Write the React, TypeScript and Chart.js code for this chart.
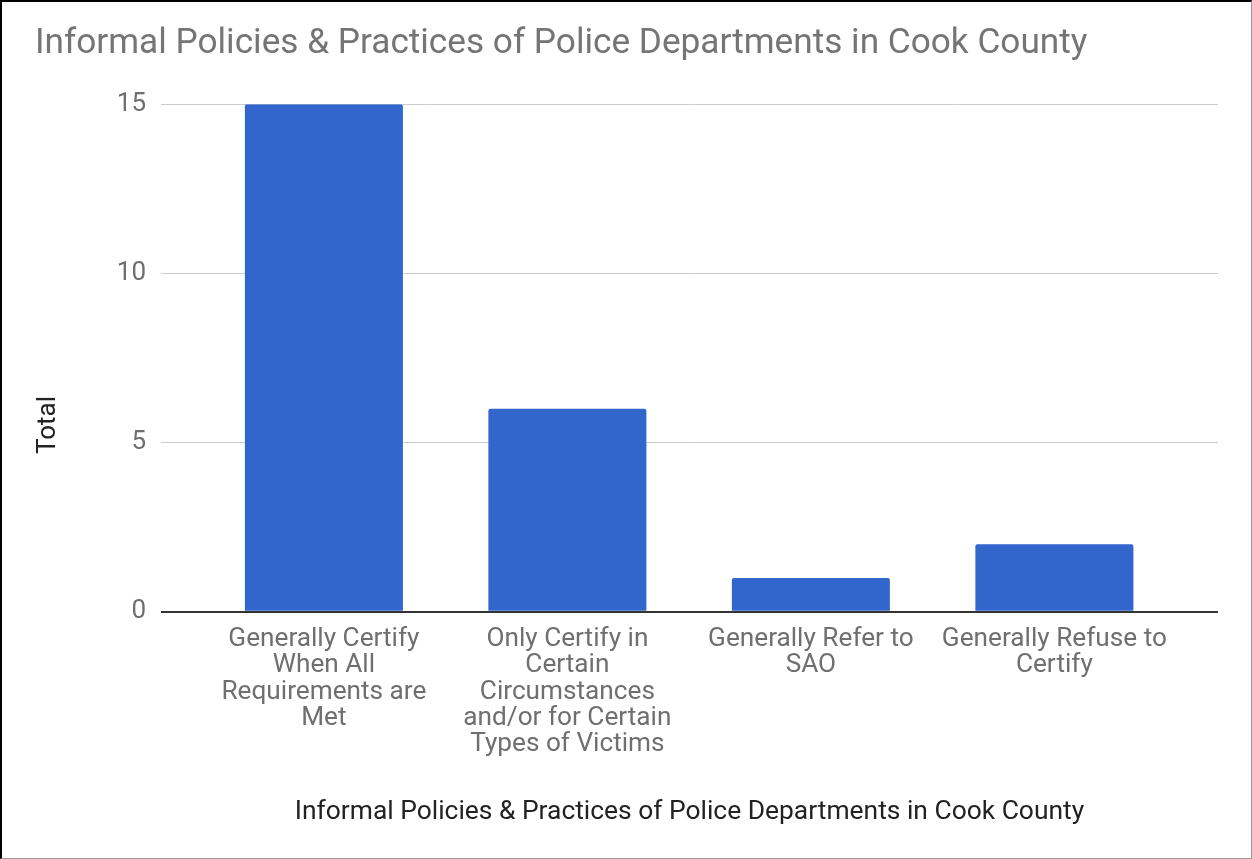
import React, { useEffect, useRef } from "react";
import { Chart, registerables } from "chart.js";

Chart.register(...registerables);

const chartTitle = "Informal Policies & Practices of Police Departments in Cook County";
const xAxisTitle = "Informal Policies & Practices of Police Departments in Cook County";
const yAxisTitle = "Total";
const categories: string[][] = [
  ["Generally Certify", "When All", "Requirements are", "Met"],
  ["Only Certify in", "Certain", "Circumstances", "and/or for Certain", "Types of Victims"],
  ["Generally Refer to", "SAO"],
  ["Generally Refuse to", "Certify"],
];
const totals: number[] = [15, 6, 1, 2];
const yTicks: number[] = [0, 5, 10, 15];

const yTitlePlugin = {
  id: "yTitlePlugin",
  afterDraw(chart: any) {
    const { ctx, chartArea } = chart;
    const yScale = chart.scales.y;
    ctx.save();
    ctx.translate(yScale.left + 13, chartArea.top + chartArea.height * 0.632);
    ctx.rotate(-Math.PI / 2);
    ctx.textAlign = "center";
    ctx.textBaseline = "middle";
    ctx.fillStyle = "#222222";
    ctx.font = "26px Roboto";
    ctx.fillText(yAxisTitle, 0, 0);
    ctx.restore();
  },
};

export default function App() {
  const canvasRef = useRef<HTMLCanvasElement | null>(null);

  useEffect(() => {
    if (!canvasRef.current) return;
    const chart = new Chart(canvasRef.current, {
      type: "bar",
      data: {
        datasets: [
          {
            label: yAxisTitle,
            data: totals.map((v, i) => ({ x: i, y: v })),
            backgroundColor: "#3366cc",
            borderRadius: 2,
            categoryPercentage: 1,
            barPercentage: 0.649,
          },
        ],
      },
      options: {
        animation: false,
        responsive: true,
        maintainAspectRatio: false,
        layout: { padding: { left: 33, right: 33, top: 21, bottom: 29.6 } },
        plugins: {
          legend: { display: false },
          tooltip: { enabled: false },
          title: {
            display: true,
            text: chartTitle,
            align: "start",
            color: "#757575",
            font: { family: "Roboto", size: 35.2, weight: "normal", lineHeight: 1.2 },
            padding: { top: 0, bottom: 39 },
          },
        },
        scales: {
          x: {
            type: "linear",
            offset: false,
            min: -0.669,
            max: 3.672,
            afterBuildTicks: (scale: any) => {
              scale.ticks = categories.map((_, i) => ({ value: i }));
            },
            grid: { display: false, drawTicks: false },
            border: { display: false },
            ticks: {
              autoSkip: false,
              maxRotation: 0,
              minRotation: 0,
              padding: 14,
              color: "#6f6f6f",
              font: { family: "Roboto", size: 26.2, lineHeight: 1.01 },
              callback: (value: any) => categories[value as number] ?? "",
            },
            title: {
              display: true,
              text: xAxisTitle,
              color: "#222222",
              font: { family: "Roboto", size: 26.4, lineHeight: 1.2 },
              padding: { top: 24.6, bottom: 0 },
            },
          },
          y: {
            min: 0,
            max: 15,
            afterBuildTicks: (scale: any) => {
              scale.ticks = yTicks.map((v) => ({ value: v }));
            },
            afterFit: (scale: any) => {
              scale.width = 126;
            },
            border: { display: false },
            grid: {
              drawTicks: false,
              color: (ctx: any) => (ctx.tick && ctx.tick.value === 0 ? "#333333" : "#cccccc"),
              lineWidth: (ctx: any) => (ctx.tick && ctx.tick.value === 0 ? 2 : 1),
            },
            ticks: {
              padding: 15,
              color: "#6f6f6f",
              font: { family: "Roboto", size: 26 },
            },
            title: { display: false, text: yAxisTitle },
          },
        },
      },
      plugins: [yTitlePlugin],
    });
    return () => chart.destroy();
  }, []);

  return (
    <div
      style={{
        position: "fixed",
        left: 0,
        top: 0,
        width: 1252,
        height: 859,
        boxSizing: "border-box",
        borderTop: "2px solid #000",
        borderLeft: "2px solid #000",
        borderRight: "1px solid #999",
        borderBottom: "1px solid #999",
        background: "#fff",
      }}
    >
      <div style={{ position: "relative", width: 1249, height: 856 }}>
        <canvas ref={canvasRef} />
      </div>
    </div>
  );
}
